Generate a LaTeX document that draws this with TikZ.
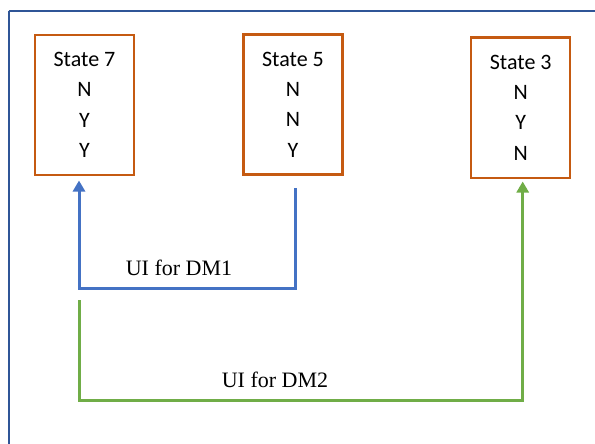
\documentclass[tikz,border=0pt]{standalone}
\usepackage{fontspec}
\setmainfont{Liberation Serif}
\newfontfamily\calib{Carlito}
\usetikzlibrary{arrows.meta}
\definecolor{frameblue}{HTML}{2F5597}
\definecolor{boxorange}{HTML}{C55A11}
\definecolor{lineblue}{HTML}{4472C4}
\definecolor{linegreen}{HTML}{70AD47}
\begin{document}
\begin{tikzpicture}[x=1pt,y=-1pt,
  statebox/.style={draw=boxorange,line width=2.4pt,minimum width=99pt,minimum height=140pt,
    inner sep=0pt,align=center,font=\calib\fontsize{22}{30.3}\selectfont},
  conn/.style={line width=3pt},
  tip/.style={-{Triangle[width=12pt,length=11pt]}},
  lbl/.style={font=\fontsize{22}{24}\selectfont,inner sep=0pt}]
\useasboundingbox (0,0) rectangle (595,444);
\draw[frameblue,line width=2pt] (8.5,11) -- (600,11);
\draw[frameblue,line width=2pt] (8.5,11) -- (8.5,450);
\node[statebox] (s7) at (84.5,105) {State 7\\N\\Y\\Y};
\node[statebox] (s5) at (293,104.6) {State 5\\N\\N\\Y};
\node[statebox] (s3) at (520.7,107.7) {State 3\\N\\Y\\N};
\coordinate (b1) at (295,188);
\coordinate (b2) at (79,288);
\coordinate (b3) at (79,180.5);
\draw[conn,lineblue,tip] (b1) |- (b2) -- (b3);
\coordinate (g1) at (79,300);
\coordinate (g2) at (522.7,400);
\coordinate (g3) at (522.7,181.5);
\draw[conn,linegreen,tip] (g1) |- (g2) -- (g3);
\node[lbl] (l1) at (179,268) {UI for DM1};
\node[lbl] (l2) at (275,380) {UI for DM2};
\end{tikzpicture}
\end{document}
